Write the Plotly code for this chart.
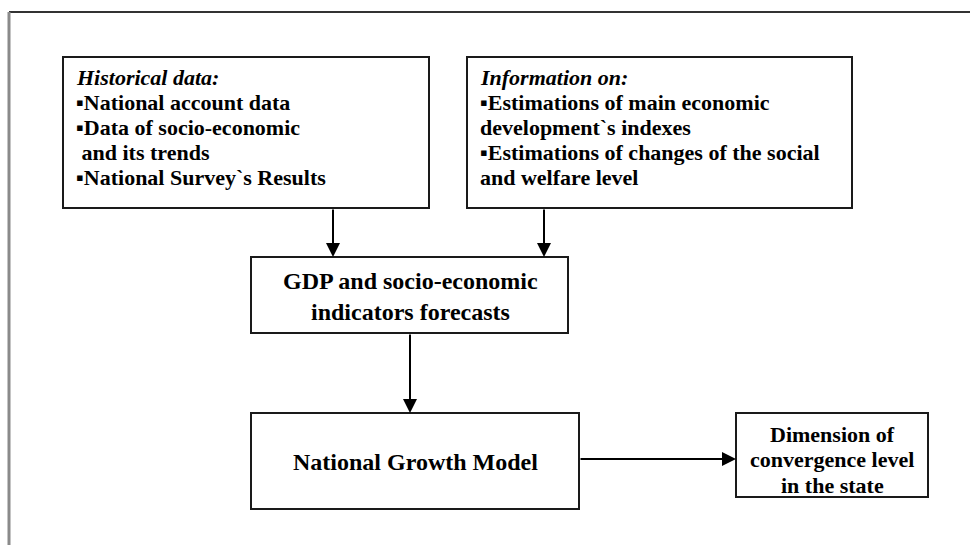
import plotly.graph_objects as go

# ---- content (text) ----
box1_lines = ["<i>Historical data:</i>", "▪National account data", "▪Data of socio-economic",
              " and its trends", "▪National Survey`s Results"]
box2_lines = ["<i>Information on:</i>", "▪Estimations of main economic", "development`s indexes",
              "▪Estimations of changes of the social", "and welfare level"]
box3_lines = ["GDP and socio-economic", "indicators forecasts"]
box4_lines = ["National Growth Model"]
box5_lines = ["Dimension of", "convergence level", "in the state"]

# ---- layout geometry (pixels, y downward) ----
boxes = {
    "b1": (63, 57, 429, 208),
    "b2": (467, 57, 852, 208),
    "b3": (251, 257, 568, 333),
    "b4": (251, 413, 579, 509),
    "b5": (736, 413, 928, 497),
}
arrows = [  # (tail_x, tail_y, head_x, head_y)
    (333, 208, 333, 257),
    (544, 208, 544, 257),
    (410, 333, 410, 413),
    (579, 459, 736, 459),
]

FONT = "Liberation Serif, Times New Roman, serif"
W, H = 970, 545

fig = go.Figure()
fig.add_trace(go.Scatter(x=[0, W], y=[0, H], mode="markers", marker=dict(opacity=0),
                         hoverinfo="skip", showlegend=False))

shapes = []
# outer frame (top and left edges visible)
shapes.append(dict(type="line", x0=9, y0=12, x1=W, y1=12, line=dict(color="#333333", width=2)))
shapes.append(dict(type="line", x0=9, y0=12, x1=9, y1=H, line=dict(color="#8a8a8a", width=3)))
for (x0, y0, x1, y1) in boxes.values():
    shapes.append(dict(type="rect", x0=x0, y0=y0, x1=x1, y1=y1,
                       line=dict(color="#1a1a1a", width=2), fillcolor="white"))

annotations = []

def left_lines(lines, x, y_first, step, size):
    for i, t in enumerate(lines):
        annotations.append(dict(x=x, y=y_first + i * step, xref="x", yref="y", text="<b>" + t + "</b>",
                                showarrow=False, xanchor="left", yanchor="middle",
                                font=dict(family=FONT, size=size, color="black")))

def center_lines(lines, x, y_first, step, size):
    for i, t in enumerate(lines):
        annotations.append(dict(x=x, y=y_first + i * step, xref="x", yref="y", text="<b>" + t + "</b>",
                                showarrow=False, xanchor="center", yanchor="middle",
                                font=dict(family=FONT, size=size, color="black")))

left_lines(box1_lines, 74, 77, 25, 22)
left_lines(box2_lines, 478, 77, 25, 22)
center_lines(box3_lines, 410, 281, 31, 24)
center_lines(box4_lines, 415, 462, 0, 24)
center_lines(box5_lines, 832, 434, 25.5, 22)

for (tx, ty, hx, hy) in arrows:
    annotations.append(dict(x=hx, y=hy, ax=tx, ay=ty, xref="x", yref="y", axref="x", ayref="y",
                            text="", showarrow=True, arrowhead=2, arrowsize=1.4, arrowwidth=2,
                            arrowcolor="black", standoff=0, startstandoff=0))

fig.update_layout(
    width=W, height=H, margin=dict(l=0, r=0, t=0, b=0),
    paper_bgcolor="white", plot_bgcolor="white",
    xaxis=dict(range=[0, W], visible=False, fixedrange=True),
    yaxis=dict(range=[H, 0], visible=False, fixedrange=True),
    shapes=shapes, annotations=annotations, showlegend=False,
)
fig.write_html("out.html", config={"displayModeBar": False},
               post_script="document.body.style.margin='0px';document.body.style.overflow='hidden';")
